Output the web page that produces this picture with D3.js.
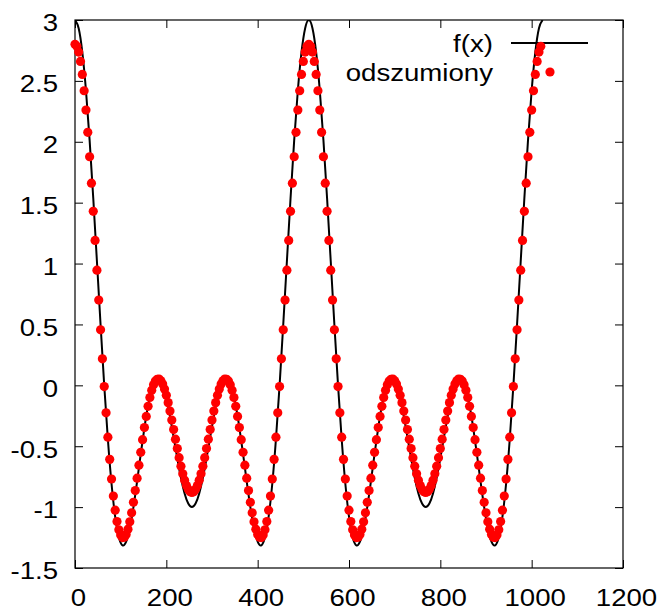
<!DOCTYPE html>
<html>
<head>
<meta charset="utf-8">
<script src="https://cdn.jsdelivr.net/npm/d3@7"></script>
<style>
  body { margin: 0; background: #fff; }
  svg text { font-family: "Liberation Sans", Arial, sans-serif; fill: #000; }
</style>
</head>
<body>
<svg id="chart" width="661" height="611"></svg>
<script>
// axis ticks
var xTicks = [0, 200, 400, 600, 800, 1000, 1200];
var yTicks = [-1.5, -1, -0.5, 0, 0.5, 1, 1.5, 2, 2.5, 3];
var yTickLabels = ["-1.5", "-1", "-0.5", "0", "0.5", "1", "1.5", "2", "2.5", "3"];
var legendLabels = ["f(x)", "odszumiony"];

// f(x), sampled every 8 units from 0 to 1024
var fStep = 8;
var fValues = [
  3.000, 2.933, 2.736, 2.423, 2.014, 1.536, 1.019, 0.497, 0.000, -0.443, -0.808, -1.079, -1.248, -1.314, -1.284, -1.173,
  -1.000, -0.789, -0.563, -0.349, -0.166, -0.032, 0.043, 0.052, 0.000, -0.107, -0.254, -0.424, -0.599, -0.760, -0.888, -0.971,
  -1.000, -0.971, -0.888, -0.760, -0.599, -0.424, -0.254, -0.107, 0.000, 0.052, 0.043, -0.032, -0.166, -0.349, -0.563, -0.789,
  -1.000, -1.173, -1.284, -1.314, -1.248, -1.079, -0.808, -0.443, 0.000, 0.497, 1.019, 1.536, 2.014, 2.423, 2.736, 2.933,
  3.000, 2.933, 2.736, 2.423, 2.014, 1.536, 1.019, 0.497, 0.000, -0.443, -0.808, -1.079, -1.248, -1.314, -1.284, -1.173,
  -1.000, -0.789, -0.563, -0.349, -0.166, -0.032, 0.043, 0.052, 0.000, -0.107, -0.254, -0.424, -0.599, -0.760, -0.888, -0.971,
  -1.000, -0.971, -0.888, -0.760, -0.599, -0.424, -0.254, -0.107, 0.000, 0.052, 0.043, -0.032, -0.166, -0.349, -0.563, -0.789,
  -1.000, -1.173, -1.284, -1.314, -1.248, -1.079, -0.808, -0.443, 0.000, 0.497, 1.019, 1.536, 2.014, 2.423, 2.736, 2.933,
  3.000
];

// odszumiony (denoised) points, every 4 units from 0 to 1020
var dotStep = 4;
var dotValues = [
  2.800, 2.784, 2.737, 2.660, 2.553, 2.419, 2.260, 2.078, 1.877, 1.660, 1.429, 1.190, 0.946, 0.700, 0.456, 0.218,
  -0.010, -0.226, -0.426, -0.608, -0.769, -0.909, -1.025, -1.118, -1.186, -1.230, -1.250, -1.247, -1.224, -1.181, -1.121, -1.047,
  -0.960, -0.864, -0.762, -0.656, -0.550, -0.446, -0.347, -0.255, -0.172, -0.100, -0.041, 0.004, 0.035, 0.050, 0.051, 0.037,
  0.010, -0.030, -0.081, -0.142, -0.211, -0.285, -0.363, -0.442, -0.519, -0.594, -0.664, -0.726, -0.779, -0.822, -0.854, -0.874,
  -0.880, -0.874, -0.854, -0.822, -0.779, -0.726, -0.664, -0.594, -0.519, -0.442, -0.363, -0.285, -0.211, -0.142, -0.081, -0.030,
  0.010, 0.037, 0.051, 0.050, 0.035, 0.004, -0.041, -0.100, -0.172, -0.255, -0.347, -0.446, -0.550, -0.656, -0.762, -0.864,
  -0.960, -1.047, -1.121, -1.181, -1.224, -1.247, -1.250, -1.230, -1.186, -1.118, -1.025, -0.909, -0.769, -0.608, -0.426, -0.226,
  -0.010, 0.218, 0.456, 0.700, 0.946, 1.190, 1.429, 1.660, 1.877, 2.078, 2.260, 2.419, 2.553, 2.660, 2.737, 2.784,
  2.800, 2.784, 2.737, 2.660, 2.553, 2.419, 2.260, 2.078, 1.877, 1.660, 1.429, 1.190, 0.946, 0.700, 0.456, 0.218,
  -0.010, -0.226, -0.426, -0.608, -0.769, -0.909, -1.025, -1.118, -1.186, -1.230, -1.250, -1.247, -1.224, -1.181, -1.121, -1.047,
  -0.960, -0.864, -0.762, -0.656, -0.550, -0.446, -0.347, -0.255, -0.172, -0.100, -0.041, 0.004, 0.035, 0.050, 0.051, 0.037,
  0.010, -0.030, -0.081, -0.142, -0.211, -0.285, -0.363, -0.442, -0.519, -0.594, -0.664, -0.726, -0.779, -0.822, -0.854, -0.874,
  -0.880, -0.874, -0.854, -0.822, -0.779, -0.726, -0.664, -0.594, -0.519, -0.442, -0.363, -0.285, -0.211, -0.142, -0.081, -0.030,
  0.010, 0.037, 0.051, 0.050, 0.035, 0.004, -0.041, -0.100, -0.172, -0.255, -0.347, -0.446, -0.550, -0.656, -0.762, -0.864,
  -0.960, -1.047, -1.121, -1.181, -1.224, -1.247, -1.250, -1.230, -1.186, -1.118, -1.025, -0.909, -0.769, -0.608, -0.426, -0.226,
  -0.010, 0.218, 0.456, 0.700, 0.946, 1.190, 1.429, 1.660, 1.877, 2.078, 2.260, 2.419, 2.553, 2.660, 2.737, 2.784
];

(function() {
  var plotLeft = 75, plotRight = 623, plotTop = 20, plotBottom = 568;
  var fontSize = 23;
  var stretch = 1.2;   // the original lettering is drawn wide

  var svg = d3.select("#chart");

  var x = d3.scaleLinear().domain([0, 1200]).range([plotLeft, plotRight]);
  var y = d3.scaleLinear().domain([-1.5, 3]).range([plotBottom, plotTop]);

  svg.append("defs").append("clipPath")
     .attr("id", "plot-clip")
     .append("rect")
     .attr("x", plotLeft).attr("y", plotTop)
     .attr("width", plotRight - plotLeft).attr("height", plotBottom - plotTop);

  function styleAxis(g) {
    g.select(".domain").remove();
    g.attr("font-family", "Liberation Sans, Arial, sans-serif").attr("font-size", fontSize);
    g.selectAll(".tick line").attr("stroke", "#000").attr("stroke-width", 1);
  }

  function widen(sel) {
    sel.each(function() {
      var w = this.getComputedTextLength();
      d3.select(this).attr("textLength", w * stretch).attr("lengthAdjust", "spacingAndGlyphs");
    });
  }

  // bottom + left axes with labels, ticks pointing inward
  svg.append("g")
     .attr("transform", "translate(0," + plotBottom + ")")
     .call(d3.axisBottom(x).tickValues(xTicks).tickSizeInner(-8).tickSizeOuter(0).tickPadding(22)
            .tickFormat(function(d) { return String(d); }))
     .call(styleAxis)
     .selectAll("text").attr("dx", 3).call(widen);

  svg.append("g")
     .attr("transform", "translate(" + plotLeft + ",0)")
     .call(d3.axisLeft(y).tickValues(yTicks).tickSizeInner(-8).tickSizeOuter(0).tickPadding(17)
            .tickFormat(function(d, i) { return yTickLabels[i]; }))
     .call(styleAxis)
     .selectAll("text").attr("dy", "0.47em").call(widen);

  // mirrored ticks on top + right
  svg.append("g")
     .attr("transform", "translate(0," + plotTop + ")")
     .call(d3.axisTop(x).tickValues(xTicks).tickSizeInner(-8).tickSizeOuter(0).tickFormat(""))
     .call(styleAxis);

  svg.append("g")
     .attr("transform", "translate(" + plotRight + ",0)")
     .call(d3.axisRight(y).tickValues(yTicks).tickSizeInner(-8).tickSizeOuter(0).tickFormat(""))
     .call(styleAxis);

  svg.append("rect")
     .attr("x", plotLeft).attr("y", plotTop)
     .attr("width", plotRight - plotLeft).attr("height", plotBottom - plotTop)
     .attr("fill", "none")
     .attr("stroke", "#000")
     .attr("stroke-width", 1.2);

  // key
  var key = svg.append("g");
  key.selectAll("text")
     .data(legendLabels)
     .enter()
     .append("text")
     .attr("x", 493)
     .attr("y", function(d, i) { return 43 + i * 29; })
     .attr("dy", "0.4em")
     .attr("text-anchor", "end")
     .attr("font-size", fontSize)
     .text(function(d) { return d; })
     .call(widen);

  key.append("line")
     .attr("x1", 511).attr("x2", 588)
     .attr("y1", 43).attr("y2", 43)
     .attr("stroke", "#000")
     .attr("stroke-width", 2);

  // f(x) curve
  var line = d3.line()
               .x(function(d, i) { return x(i * fStep); })
               .y(function(d) { return y(d); })
               .curve(d3.curveNatural);

  svg.append("path")
     .datum(fValues)
     .attr("clip-path", "url(#plot-clip)")
     .attr("d", line)
     .attr("fill", "none")
     .attr("stroke", "#000")
     .attr("stroke-width", 2);

  key.append("circle")
     .attr("cx", 550).attr("cy", 72)
     .attr("r", 4.6)
     .attr("fill", "#ff0000");

  // denoised points
  svg.append("g")
     .selectAll("circle")
     .data(dotValues)
     .enter()
     .append("circle")
     .attr("cx", function(d, i) { return x(i * dotStep); })
     .attr("cy", function(d) { return y(d); })
     .attr("r", 4.6)
     .attr("fill", "#ff0000");
})();
</script>
</body>
</html>
